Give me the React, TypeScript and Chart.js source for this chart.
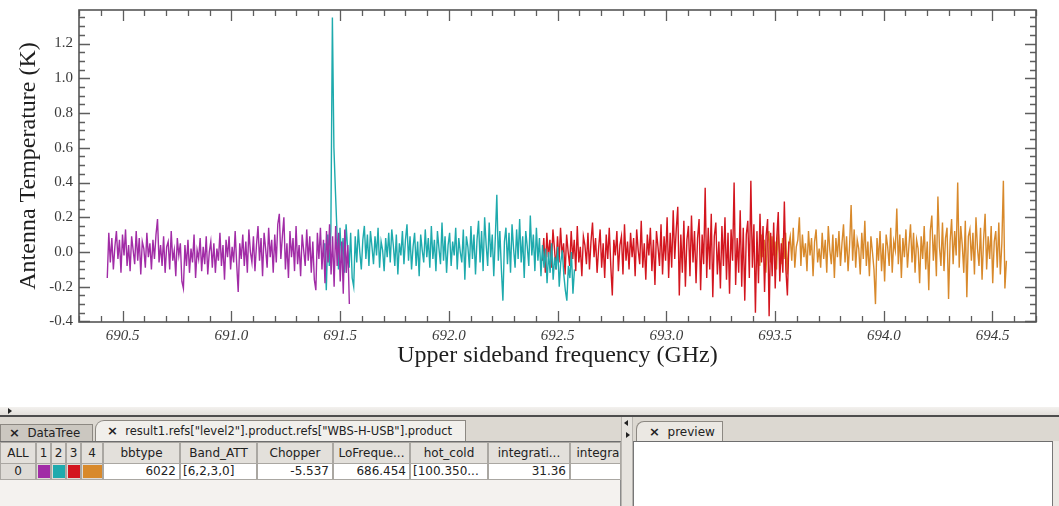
import React, { useEffect, useRef } from 'react';
import { Chart, registerables } from 'chart.js';

Chart.register(...registerables);

// ---------- data ----------
const BAND_NAMES = ['1', '2', '3', '4'];
const BAND_COLORS = ['#a12ca6', '#1eaaad', '#d3161f', '#d8892b'];
const BAND_START_GHZ = [690.43, 691.43, 692.43, 693.43];
const CHANNEL_STEP_GHZ = 0.007;

const BAND1_K = [
  -0.15, 0.11, -0.06, 0.08, -0.10, 0.03, 0.12, -0.04, 0.07, -0.12,
  0.10, -0.02, 0.13, -0.08, 0.04, -0.11, 0.09, 0.01, -0.07, 0.12,
  -0.05, 0.08, -0.13, 0.06, 0.02, -0.09, 0.11, -0.03, 0.05, -0.10,
  0.07, -0.04, 0.10, 0.19, -0.06, 0.04, -0.08, 0.09, -0.12, 0.03,
  0.06, -0.10, 0.12, -0.05, 0.01, -0.14, 0.08, -0.02, 0.05, -0.17,
  -0.21, 0.04, -0.08, 0.07, -0.12, 0.02, -0.06, 0.10, -0.15, 0.01,
  -0.04, 0.08, -0.11, 0.03, -0.07, 0.09, -0.13, 0.00, 0.06, -0.09,
  0.05, -0.12, 0.02, -0.05, 0.11, -0.08, 0.04, -0.16, 0.07, -0.03,
  0.09, -0.10, 0.03, -0.06, 0.12, -0.07, -0.23, 0.05, -0.04, 0.10,
  -0.08, 0.06, -0.12, 0.13, 0.00, -0.06, 0.09, -0.11, 0.04, 0.15,
  -0.05, 0.08, -0.14, 0.11, 0.02, -0.09, 0.14, -0.03, 0.07, -0.12,
  0.10, -0.06, 0.16, 0.22, -0.04, 0.09, 0.20, -0.10, 0.05, -0.15,
  0.12, -0.03, 0.08, -0.11, 0.15, -0.07, 0.04, -0.14, 0.10, 0.01,
  -0.08, 0.13, -0.05, 0.09, -0.12, 0.06, -0.16, -0.22, 0.11, -0.04,
  0.14, -0.10, 0.07, -0.18, 0.12, -0.06, 0.16, -0.13, 0.09, -0.20,
  0.15, -0.08, 0.11, -0.17, 0.06, -0.24, 0.13, -0.12, 0.04, -0.30,
];

const BAND2_K = [
  0.05, -0.22, 0.10, -0.08, 0.12, 1.35, 0.60, 0.35, 0.12, -0.10,
  0.14, -0.05, 0.08, -0.12, 0.16, 0.02, -0.09, 0.11, -0.15, -0.20,
  0.09, -0.06, 0.13, 0.00, -0.10, 0.07, 0.15, -0.04, 0.10, -0.08,
  0.12, 0.03, -0.07, 0.09, -0.02, 0.14, -0.09, 0.06, 0.01, -0.11,
  0.08, -0.03, 0.11, -0.06, 0.13, 0.04, -0.08, 0.10, -0.13, 0.05,
  -0.02, 0.12, -0.07, 0.07, 0.16, -0.05, 0.09, -0.10, 0.03, 0.11,
  -0.08, 0.06, -0.14, 0.10, 0.01, -0.06, 0.13, -0.03, 0.08, -0.09,
  0.15, -0.04, 0.07, -0.11, 0.12, 0.02, -0.07, 0.17, -0.05, 0.09,
  -0.12, 0.04, 0.11, -0.08, 0.06, -0.02, 0.14, -0.10, 0.08, 0.00,
  -0.06, 0.13, -0.16, 0.09, 0.03, -0.09, 0.15, -0.04, 0.10, -0.13,
  0.07, 0.18, -0.06, 0.12, -0.11, 0.20, 0.04, -0.08, 0.17, -0.03,
  0.10, -0.14, 0.08, 0.33, -0.05, 0.12, -0.10, -0.28, 0.06, 0.14,
  -0.07, 0.11, -0.12, 0.16, 0.02, -0.09, 0.13, -0.04, 0.19, -0.06,
  0.09, -0.15, 0.12, 0.03, -0.08, 0.21, -0.02, 0.10, -0.11, 0.14,
  -0.05, 0.08, -0.14, 0.04, -0.09, 0.02, -0.18, 0.00, -0.12, 0.05,
  -0.16, -0.03, -0.10, 0.03, -0.20, -0.06, 0.01, -0.13, -0.22, -0.28,
  -0.08, -0.15, 0.00, -0.24, -0.10,
];

const BAND3_K = [
  -0.05, 0.08, -0.12, 0.11, -0.03, 0.07, -0.09, 0.13, 0.02, -0.10,
  0.09, -0.06, 0.14, -0.02, 0.05, -0.13, 0.10, 0.00, -0.08, 0.12,
  -0.04, 0.07, -0.11, 0.15, -0.06, 0.03, -0.14, 0.09, 0.04, -0.07,
  0.11, -0.10, 0.06, 0.17, -0.03, 0.08, -0.12, 0.02, 0.13, -0.09,
  0.05, -0.15, 0.10, -0.04, 0.14, -0.08, -0.25, 0.07, -0.02, 0.12,
  -0.11, 0.04, 0.09, -0.13, 0.16, -0.05, 0.06, -0.10, 0.11, -0.03,
  0.08, -0.14, 0.13, 0.01, -0.07, 0.18, -0.09, 0.05, -0.16, 0.10,
  -0.02, 0.14, -0.11, 0.07, -0.19, 0.12, 0.03, -0.08, 0.16, -0.13,
  0.09, -0.05, 0.20, -0.15, 0.11, -0.09, 0.24, -0.04, 0.13, 0.26,
  -0.25, 0.10, -0.12, 0.18, -0.20, 0.07, 0.15, -0.14, 0.21, -0.06,
  0.12, -0.18, 0.08, 0.19, -0.22, 0.10, -0.07, 0.37, -0.15, 0.14,
  -0.10, 0.22, -0.26, 0.09, 0.17, -0.13, 0.06, -0.21, 0.15, -0.08,
  0.20, -0.16, 0.11, -0.24, 0.13, -0.05, 0.40, -0.19, 0.08, -0.12,
  0.24, -0.20, 0.14, -0.28, 0.10, 0.18, -0.15, 0.41, -0.09, 0.16,
  -0.35, 0.12, -0.18, 0.22, -0.06, 0.15, -0.23, 0.09, 0.19, -0.37,
  0.11, -0.14, 0.17, -0.21, 0.08, 0.23, -0.17, 0.05, -0.12, 0.29,
  -0.10, -0.25, 0.06,
];

const BAND4_K = [
  -0.08, 0.10, -0.03, 0.07, -0.12, 0.05, 0.12, -0.06, 0.09, -0.02,
  0.06, -0.10, 0.13, 0.00, -0.07, 0.08, -0.04, 0.11, -0.13, 0.04,
  0.09, -0.05, 0.14, -0.09, 0.03, 0.07, 0.20, -0.08, 0.10, -0.03,
  0.05, -0.11, 0.12, -0.02, 0.08, -0.14, 0.06, 0.13, -0.06, 0.02,
  -0.09, 0.11, -0.04, 0.07, -0.12, 0.15, 0.01, -0.07, 0.10, -0.15,
  0.08, -0.03, 0.12, -0.08, 0.05, 0.16, -0.06, 0.09, -0.11, 0.04,
  0.27, -0.05, 0.13, -0.09, 0.07, 0.02, -0.13, 0.11, -0.04, 0.18,
  -0.08, 0.06, -0.14, 0.09, 0.00, -0.10, -0.30, 0.08, -0.05, 0.12,
  -0.11, 0.05, -0.17, 0.10, 0.03, -0.08, 0.14, -0.12, 0.06, 0.01,
  0.25, -0.07, 0.10, -0.15, 0.08, -0.03, 0.13, -0.09, 0.04, 0.16,
  -0.06, 0.11, -0.12, 0.07, 0.02, -0.18, 0.09, -0.04, 0.15, -0.10,
  0.06, -0.22, 0.12, 0.21, -0.05, 0.10, -0.14, 0.32, 0.03, -0.08,
  0.17, -0.11, 0.08, 0.14, -0.27, 0.06, 0.19, -0.07, 0.12, -0.02,
  0.40, -0.09, 0.15, 0.04, -0.12, 0.18, -0.26, 0.09, 0.13, -0.05,
  0.11, -0.13, 0.20, 0.02, -0.08, 0.14, -0.16, 0.07, 0.22, -0.10,
  0.09, -0.04, 0.15, -0.18, 0.06, 0.12, -0.09, 0.17, -0.13, 0.05,
  0.41, -0.21, -0.05,
];

const X_TICKS = [690.5, 691.0, 691.5, 692.0, 692.5, 693.0, 693.5, 694.0, 694.5];
const Y_TICKS = [-0.4, -0.2, 0.0, 0.2, 0.4, 0.6, 0.8, 1.0, 1.2];
const X_MIN = 690.3;
const X_MAX = 694.7;
const Y_MIN = -0.403;
const Y_MAX = 1.393;
const X_TITLE = 'Upper sideband frequency (GHz)';
const Y_TITLE = 'Antenna Temperature (K)';

const TAB_LEFT = 'DataTree';
const TAB_PRODUCT = 'result1.refs["level2"].product.refs["WBS-H-USB"].product';
const TAB_PREVIEW = 'preview';
const TABLE_HEADERS = ['ALL', '1', '2', '3', '4', 'bbtype', 'Band_ATT', 'Chopper', 'LoFreque...', 'hot_cold', 'integrati...', 'integra'];
const TABLE_ROW = ['0', '', '', '', '', '6022', '[6,2,3,0]', '-5.537', '686.454', '[100.350...', '31.36', ''];

// ---------- styling / layout ----------
const SERIF = '"Liberation Serif", "Times New Roman", serif';
const UI_FONT = '"DejaVu Sans", "Liberation Sans", sans-serif';
const COLS = [
  { l: 0, w: 35, a: 'center' }, { l: 36, w: 14, a: 'center' }, { l: 51, w: 14, a: 'center' },
  { l: 66, w: 14, a: 'center' }, { l: 81, w: 21, a: 'center' }, { l: 103, w: 76, a: 'right' },
  { l: 180, w: 76, a: 'left' }, { l: 257, w: 75, a: 'right' }, { l: 333, w: 76, a: 'right' },
  { l: 410, w: 77, a: 'left' }, { l: 488, w: 81, a: 'right' }, { l: 570, w: 50, a: 'left' },
];

const frameTicks = {
  id: 'frameTicks',
  afterDraw(chart: any) {
    const { ctx, chartArea: a } = chart;
    const xs = chart.scales.x;
    const ys = chart.scales.y;
    ctx.save();
    ctx.strokeStyle = '#5e5e5e';
    ctx.lineWidth = 1.3;
    ctx.beginPath();
    for (let k = Math.ceil(xs.min * 10 - 1e-6); k <= Math.floor(xs.max * 10 + 1e-6); k++) {
      const px = Math.round(xs.getPixelForValue(k / 10)) + 0.5;
      const len = k % 5 === 0 ? 11 : 6;
      ctx.moveTo(px, a.bottom); ctx.lineTo(px, a.bottom - len);
      ctx.moveTo(px, a.top); ctx.lineTo(px, a.top + len);
    }
    for (let k = Math.ceil(ys.min * 20 - 1e-6); k <= Math.floor(ys.max * 20 + 1e-6); k++) {
      const py = Math.round(ys.getPixelForValue(k / 20)) + 0.5;
      const len = k % 4 === 0 ? 11 : 6;
      ctx.moveTo(a.left, py); ctx.lineTo(a.left + len, py);
      ctx.moveTo(a.right, py); ctx.lineTo(a.right - len, py);
    }
    ctx.stroke();
    ctx.lineWidth = 1.6;
    ctx.strokeStyle = '#555';
    ctx.strokeRect(a.left, a.top, a.right - a.left, a.bottom - a.top);
    ctx.restore();
  },
};

function SpectrumChart() {
  const ref = useRef<HTMLCanvasElement>(null);
  useEffect(() => {
    const bands = [BAND1_K, BAND2_K, BAND3_K, BAND4_K];
    const chart = new Chart(ref.current as HTMLCanvasElement, {
      type: 'line',
      data: {
        datasets: bands.map((vals, b) => ({
          label: 'Band ' + BAND_NAMES[b],
          data: vals.map((y, i) => ({ x: BAND_START_GHZ[b] + i * CHANNEL_STEP_GHZ, y })),
          borderColor: BAND_COLORS[b],
          backgroundColor: BAND_COLORS[b],
          borderWidth: 1.4,
          pointRadius: 0,
          tension: 0,
          fill: false,
        })),
      },
      options: {
        animation: false,
        responsive: false,
        events: [],
        layout: { padding: { top: 10, right: 23, left: 0, bottom: 0 } },
        plugins: { legend: { display: false }, tooltip: { enabled: false }, title: { display: false } },
        scales: {
          x: {
            type: 'linear',
            min: X_MIN,
            max: X_MAX,
            grid: { display: false, drawTicks: false },
            border: { display: false },
            afterBuildTicks: (s: any) => { s.ticks = X_TICKS.map((v) => ({ value: v })); },
            afterFit: (s: any) => { s.height = 58; s.paddingLeft = 0; s.paddingRight = 0; },
            ticks: {
              autoSkip: false,
              maxRotation: 0,
              padding: 5,
              color: '#3a3a3a',
              font: { family: SERIF, size: 15, style: 'italic' },
              callback: (v: any) => Number(v).toFixed(1),
            },
            title: {
              display: true,
              text: X_TITLE,
              color: '#1e1e1e',
              font: { family: SERIF, size: 24 },
              padding: { top: 0, bottom: 10 },
            },
          },
          y: {
            type: 'linear',
            min: Y_MIN,
            max: Y_MAX,
            grid: { display: false, drawTicks: false },
            border: { display: false },
            afterBuildTicks: (s: any) => { s.ticks = Y_TICKS.map((v) => ({ value: v })); },
            afterFit: (s: any) => { s.width = 79; s.paddingTop = 0; s.paddingBottom = 0; },
            ticks: {
              autoSkip: false,
              padding: 6,
              color: '#3a3a3a',
              font: { family: SERIF, size: 15 },
              callback: (v: any) => Number(v).toFixed(1),
            },
            title: {
              display: true,
              text: Y_TITLE,
              color: '#1e1e1e',
              font: { family: SERIF, size: 24 },
              padding: { top: 14, bottom: 0 },
            },
          },
        },
      },
      plugins: [frameTicks],
    } as any);
    return () => chart.destroy();
  }, []);
  return <canvas ref={ref} width={1059} height={380} style={{ display: 'block', position: 'absolute', left: 0, top: 0 }} />;
}

function abs(l: number, t: number, w: number, h: number, extra: React.CSSProperties = {}): React.CSSProperties {
  return { position: 'absolute', left: l, top: t, width: w, height: h, boxSizing: 'border-box', ...extra };
}

function Panel() {
  const textStyle: React.CSSProperties = { fontFamily: UI_FONT, fontSize: 12, color: '#222', whiteSpace: 'nowrap' };
  return (
    <>
      {/* top strip and separator */}
      <div style={abs(0, 407, 1059, 8, { background: 'linear-gradient(#f3f1ee, #e2dfda)' })} />
      <div style={abs(8, 408, 0, 0, { borderTop: '3px solid transparent', borderBottom: '3px solid transparent', borderLeft: '4px solid #222' })} />
      <div style={abs(0, 415, 1059, 2, { background: '#4d4d4d' })} />
      {/* tab bar */}
      <div style={abs(0, 417, 1059, 25, { background: '#dcd8d1' })} />
      <div style={abs(0, 424, 93, 18, { background: '#cbc7c0', border: '1px solid #8c8882', borderBottom: 'none', ...textStyle, fontSize: 11.8, lineHeight: '16px', paddingLeft: 8 })}>
        <b style={{ fontSize: 13 }}>×</b>&nbsp;&nbsp;{TAB_LEFT}
      </div>
      <div style={abs(95, 420, 371, 22, { background: '#f1efeb', border: '1px solid #8c8882', borderBottom: 'none', borderTopLeftRadius: 9, ...textStyle, fontSize: 11.5, lineHeight: '20px', paddingLeft: 11 })}>
        <b style={{ fontSize: 13 }}>×</b>&nbsp;&nbsp;{TAB_PRODUCT}
      </div>
      {/* left panel body */}
      <div style={abs(0, 441, 621, 65, { background: '#f4f2ef', borderTop: '1px solid #6e6e6e', borderRight: '1px solid #8a8a8a' })} />
      {TABLE_HEADERS.map((h, i) => (
        <div key={'h' + i} style={abs(COLS[i].l, 442, COLS[i].w + 1, 22, {
          background: '#e3e0db', border: '1px solid #aaa7a2', ...textStyle, fontSize: 12, lineHeight: '20px',
          textAlign: 'center', overflow: 'hidden', paddingLeft: i === 11 ? 5 : 0,
        })}>{h}</div>
      ))}
      {TABLE_ROW.map((v, i) => {
        const c = COLS[i];
        const isSwatch = i >= 1 && i <= 4;
        const isHead = i === 0;
        return (
          <div key={'r' + i} style={abs(c.l, 463, c.w + 1, 17, {
            background: isHead || isSwatch ? '#dedbd6' : '#fff', border: '1px solid #aaa7a2',
            ...textStyle, fontSize: 12, lineHeight: '15px', textAlign: c.a as any,
            paddingLeft: c.a === 'left' ? 2 : 0, paddingRight: c.a === 'right' ? 3 : 0, overflow: 'hidden',
          })}>
            {isSwatch ? <div style={abs(1, 1, c.w - 1, 13, { background: BAND_COLORS[i - 1] })} /> : v}
          </div>
        );
      })}
      {/* splitter */}
      <div style={abs(621, 417, 12, 89, { background: '#e6e3de', borderLeft: '1px solid #b8b5b0', borderRight: '1px solid #b8b5b0' })} />
      <div style={abs(624, 420, 0, 0, { borderTop: '3px solid transparent', borderBottom: '3px solid transparent', borderRight: '4px solid #222' })} />
      <div style={abs(626, 432, 0, 0, { borderTop: '3px solid transparent', borderBottom: '3px solid transparent', borderLeft: '4px solid #222' })} />
      {/* right panel */}
      <div style={abs(636, 421, 87, 21, { background: '#ebe8e3', border: '1px solid #8c8882', borderBottom: 'none', borderTopLeftRadius: 8, ...textStyle, lineHeight: '19px', paddingLeft: 12 })}>
        <b style={{ fontSize: 13 }}>×</b>&nbsp;&nbsp;{TAB_PREVIEW}
      </div>
      <div style={abs(633, 441, 420, 65, { background: '#fff', borderTop: '1px solid #6e6e6e', borderLeft: '1px solid #777', borderRight: '1px solid #777' })} />
      <div style={abs(1053, 441, 6, 65, { background: '#ebe8e3' })} />
    </>
  );
}

export default function App() {
  return (
    <div style={{ position: 'absolute', left: 0, top: 0, width: 1059, height: 506, background: '#fff', overflow: 'hidden' }}>
      <SpectrumChart />
      <Panel />
    </div>
  );
}
